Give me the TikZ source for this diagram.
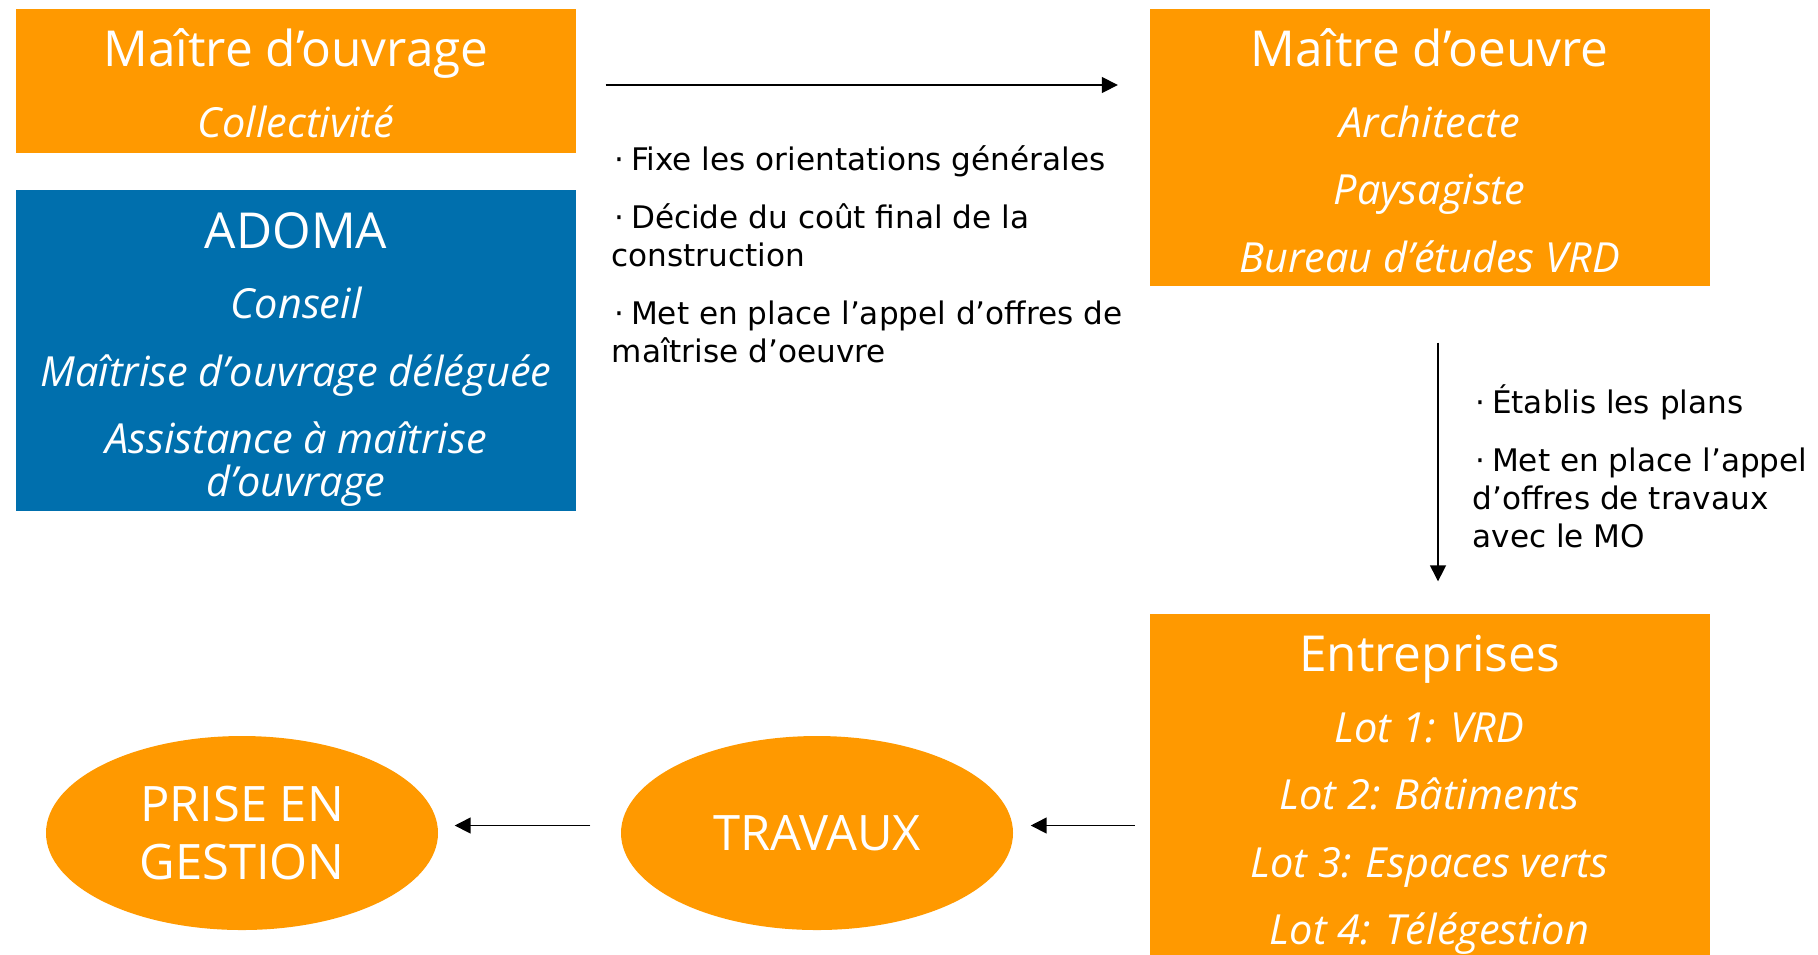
\documentclass[tikz,border=0pt]{standalone}
\usepackage{fontspec}
\setmainfont{Open Sans}
\newfontfamily\notefont{DejaVu Sans}
\usetikzlibrary{shapes.geometric,arrows.meta}

\definecolor{orangeMO}{RGB}{255,153,0}
\definecolor{bleuAdoma}{RGB}{0,111,173}

\tikzset{
  boite/.style={fill=orangeMO, text=white, minimum width=56mm, align=center, inner sep=0pt,
    font=\fontsize{11.8}{19.2}\selectfont\itshape},
  phase/.style={ellipse, fill=orangeMO, text=white, minimum width=39.2mm, minimum height=19.4mm,
    inner sep=0pt, align=center, font=\fontsize{13.9}{16.5}\selectfont},
  note/.style={anchor=north west, align=left, inner sep=0pt,
    font=\notefont\fontsize{8.85}{10.8}\selectfont},
  fleche/.style={-{Triangle[length=1.6mm,width=1.6mm]}, line width=0.15mm},
}
\newcommand{\titre}[2][0pt]{{\upshape\fontsize{14.1}{19}\selectfont\rule{0pt}{#1}#2}}
\newcommand{\puce}{\hspace{0.7pt}·\hspace{2pt}}

\begin{document}
\begin{tikzpicture}[x=0.1mm,y=-0.1mm]
\useasboundingbox (0,0) rectangle (1818,954);
\clip (0,0) rectangle (1818,954);
% acteurs
\node[boite, minimum height=14.4mm] (mo) at (296,81) {\titre[12pt]{Maître d’ouvrage}\\[1pt]Collectivité};
\node[boite, minimum height=32.1mm, fill=bleuAdoma] (adoma) at (296,350.5)
  {\titre[15.3pt]{ADOMA}\\[1pt]Conseil\\Maîtrise d’ouvrage déléguée\\Assistance à maîtrise\\[-7pt]d’ouvrage};
\node[boite, minimum height=27.7mm] (moe) at (1429.5,147.5)
  {\titre[12.6pt]{Maître d’oeuvre}\\[0.8pt]Architecte\\Paysagiste\\Bureau d’études VRD};
\node[boite, minimum height=36.2mm] (ent) at (1429.5,795)
  {\titre{Entreprises}\\[1pt]Lot 1: VRD\\Lot 2: Bâtiments\\Lot 3: Espaces verts\\Lot 4: Télégestion};
% phases
\node[phase] (trav) at (817,833) {TRAVAUX};
\node[phase] (prise) at (242,833) {PRISE EN\\GESTION};
% roles
\node[note] (rolemo) at (611,145) {\puce Fixe les orientations générales\\[5.7pt]\puce Décide du coût final de la\\construction\\[5.7pt]\puce Met en place l’appel d’offres de\\maîtrise d’oeuvre};
\node[note] (rolemoe) at (1472,384) {\puce Établis les plans\\[5.7pt]\puce Met en place l’appel\\d’offres de travaux\\avec le MO};
% fleches
\draw[fleche, shorten <=2.9mm, shorten >=3.1mm] ([yshift=-0.4mm]mo.east) -- ([yshift=-0.4mm]mo.east -| moe.west);
\draw[fleche, shorten <=5.6mm, shorten >=3.2mm] ([xshift=0.85mm]moe.south) -- ([xshift=0.85mm]moe.south |- ent.north);
\draw[fleche, shorten <=1.4mm, shorten >=1.7mm] ([yshift=0.75mm]ent.west |- trav.east) -- ([yshift=0.75mm]trav.east);
\draw[fleche, shorten <=3mm, shorten >=1.6mm] ([yshift=0.75mm]trav.west) -- ([yshift=0.75mm]prise.east);
\end{tikzpicture}
\end{document}
